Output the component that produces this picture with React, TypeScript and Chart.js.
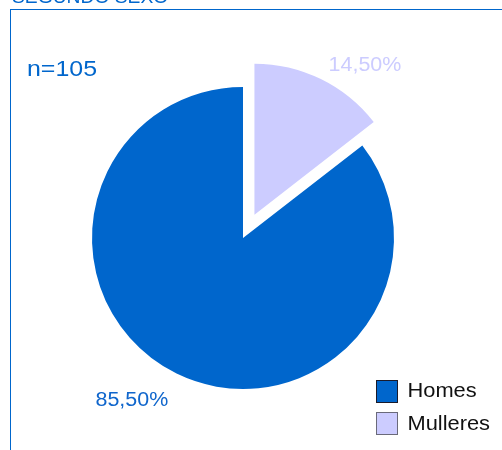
import React, { useEffect, useRef } from "react";
import { Chart, registerables } from "chart.js";

Chart.register(...registerables);

const titleText = "SEGUNDO SEXO";
const sampleLabel = "n=105";
const categories = ["Homes", "Mulleres"];
const shares = [85.5, 14.5];
const percentLabels = ["85,50%", "14,50%"];
const sliceColors = ["#0066CC", "#CCCCFF"];
const legendBorders = ["#1a1a2a", "#6a6a7a"];
const labelColors = ["#1066CC", "#CCCCFF"];
const explode = [0, 26];
// label anchors relative to slice centre, in units of the radius
const labelAnchors = [
  [-0.736, 1.113],
  [0.732, -0.954],
];

const FONT = '"Liberation Sans", Arial, sans-serif';
const BLUE = "#0066CC";

function drawText(
  ctx: CanvasRenderingContext2D,
  text: string,
  x: number,
  y: number,
  size: number,
  color: string,
  sx: number,
  align: CanvasTextAlign
) {
  ctx.save();
  ctx.font = `${size}px ${FONT}`;
  ctx.fillStyle = color;
  ctx.textBaseline = "alphabetic";
  ctx.textAlign = align;
  ctx.translate(x, y);
  ctx.scale(sx, 1);
  ctx.fillText(text, 0, 0);
  ctx.restore();
}

const explodePlugin = {
  id: "explodeSlices",
  afterDatasetsUpdate(chart: any) {
    const meta = chart.getDatasetMeta(0);
    meta.data.forEach((arc: any, i: number) => {
      const d = explode[i] || 0;
      if (!d) return;
      const mid = (arc.startAngle + arc.endAngle) / 2;
      arc.x += Math.cos(mid) * d;
      arc.y += Math.sin(mid) * d;
    });
  },
};

const decorPlugin = {
  id: "decor",
  afterDraw(chart: any) {
    const ctx: CanvasRenderingContext2D = chart.ctx;
    // frame
    ctx.save();
    ctx.fillStyle = BLUE;
    ctx.fillRect(10, 9, 1, chart.height - 9);
    ctx.fillRect(10, 9, chart.width - 10, 1);
    ctx.restore();
    // title (clipped at the top)
    drawText(ctx, titleText, 12, 2.5, 18, BLUE, 1.07, "left");
    // sample size
    drawText(ctx, sampleLabel, 27, 76, 21.5, BLUE, 1.16, "left");
    // percent labels
    const meta = chart.getDatasetMeta(0);
    meta.data.forEach((arc: any, i: number) => {
      const r = arc.outerRadius;
      const [ax, ay] = labelAnchors[i];
      drawText(ctx, percentLabels[i], arc.x + ax * r, arc.y + ay * r, 19.5, labelColors[i], 1.1, "center");
    });
    // legend
    categories.forEach((c, i) => {
      const top = 379.5 + i * 32.7;
      ctx.save();
      ctx.fillStyle = sliceColors[i];
      ctx.fillRect(376, Math.round(top), 22, 23);
      ctx.strokeStyle = legendBorders[i];
      ctx.lineWidth = 1;
      ctx.strokeRect(376.5, Math.round(top) + 0.5, 21, 22);
      ctx.restore();
      drawText(ctx, c, 407.5, top + 17.5, 19.5, "#111111", 1.12, "left");
    });
  },
};

export default function App() {
  const ref = useRef<HTMLCanvasElement | null>(null);
  useEffect(() => {
    if (!ref.current) return;
    const total = shares.reduce((a, b) => a + b, 0);
    const chart = new Chart(ref.current, {
      type: "pie",
      data: {
        labels: categories,
        datasets: [
          {
            data: shares,
            backgroundColor: sliceColors,
            borderWidth: 0,
            hoverOffset: 0,
          },
        ],
      },
      options: {
        responsive: false,
        maintainAspectRatio: false,
        animation: false,
        rotation: (shares[1] / total) * 360,
        radius: 151,
        layout: { padding: { left: 43, right: 59, top: 38, bottom: 12 } },
        plugins: {
          legend: { display: false },
          tooltip: { enabled: false },
          title: { display: false },
        },
        events: [],
      } as any,
      plugins: [explodePlugin, decorPlugin],
    });
    return () => chart.destroy();
  }, []);
  return (
    <div style={{ position: "fixed", left: 0, top: 0, width: 502, height: 450, background: "#fff" }}>
      <canvas ref={ref} width={502} height={450} style={{ display: "block", width: 502, height: 450 }} />
    </div>
  );
}
